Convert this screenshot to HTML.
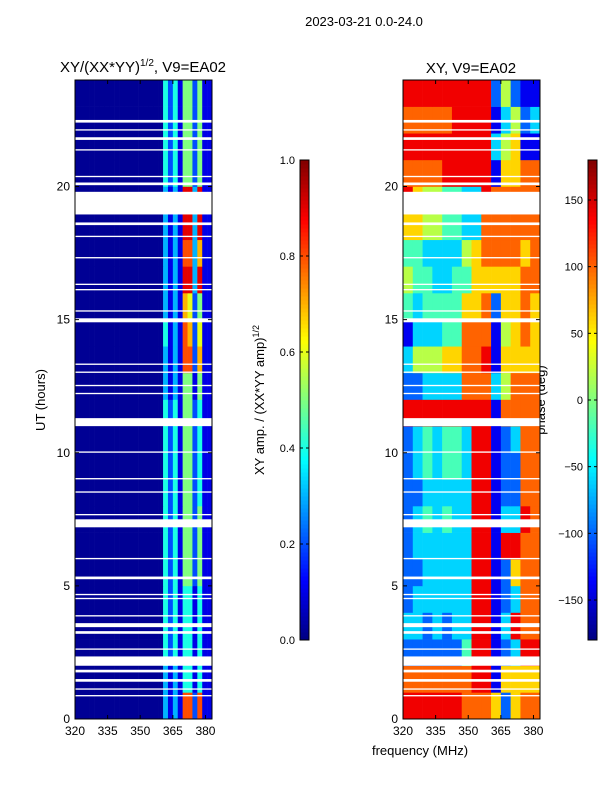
<!DOCTYPE html>
<html><head><meta charset="utf-8"><style>
body{margin:0;background:#fff;}
svg text{font-family:"Liberation Sans",sans-serif;}
</style></head><body>
<svg id="fig" width="600" height="800" xmlns="http://www.w3.org/2000/svg">
<rect width="600" height="800" fill="#fff"/>
<text x="364" y="26" font-size="13" text-anchor="middle">2023-03-21 0.0-24.0</text>
<text x="143" y="72" font-size="15" text-anchor="middle">XY/(XX*YY)<tspan font-size="10" dy="-6">1/2</tspan><tspan dy="6">, V9=EA02</tspan></text>
<text x="471" y="73" font-size="15" text-anchor="middle">XY, V9=EA02</text>
<text transform="translate(45,400) rotate(-90)" font-size="13" text-anchor="middle">UT (hours)</text>
<text x="420" y="755" font-size="13" text-anchor="middle">frequency (MHz)</text>
<text transform="translate(264,400) rotate(-90)" font-size="13" text-anchor="middle">XY amp. / (XX*YY amp)<tspan font-size="9" dy="-5">1/2</tspan></text>
<text transform="translate(545,400) rotate(-90)" font-size="13" text-anchor="middle">phase (deg)</text>
<g id="g"></g>
</svg>
<script>
const freqTicks=[320,335,350,365,380];
const hourTicks=[0,5,10,15,20];
const ampTicks=[0.0,0.2,0.4,0.6,0.8,1.0];
const phaseTicks=[-150,-100,-50,0,50,100,150];
// amplitude: 28 frequency bands x 24 hourly rows (hour 0 first); digits 0-9
const ampRows=[
"0000000000000000003131882811",
"0000000000000000003131441411",
"0000000000000000004241441411",
"0000000000000000004241441411",
"0000000000000000004241441411",
"0000000000000000004241552511",
"0000000000000000004241552511",
"0000000000000000004241552511",
"0000000000000000004241552411",
"0000000000000000004241552411",
"0000000000000000004241552411",
"0000000000000000004241552411",
"0000000000000000003131551511",
"0000000000000000003131882711",
"0000000000000000004131872611",
"0000000000000000003131762511",
"0000000000000000003131993911",
"0000000000000000003131883711",
"0000000000000000003131993911",
"0000000000000000003131993911",
"0000000000000000004241552511",
"0000000000000000004241552511",
"0000000000000000004241552511",
"0000000000000000004241552511"];
// phase: 14 frequency bands x 24 hourly rows; digit d -> -180 + d*40 deg
const phaseRows=["88888877762677","77777778816666","22222248812388","33232338813877","23333338812377",
"22333338812677","23333338818877","23434338813387","22333338812277","23434438812277","23434438812377",
"88888888817777","22333377735777","35556677816666","13334477715676","43444466726676","54433446666677",
"44333356777767","66554433777777","86554433877777","77778888816677","88888888835611","77777888813523","88888888825211"];
const flagged=[[0.85,0.9],[1.1,1.15],[1.4,1.5],[1.75,1.85],[2.0,2.35],[2.6,2.65],[3.2,3.3],[3.45,3.6],[3.85,3.9],[4.5,4.55],[4.65,4.7],[5.25,5.35],[6.0,6.05],[7.2,7.5],[7.65,7.7],[8.5,8.55],[9.0,9.05],[10.0,10.05],[11.0,11.3],[12.2,12.25],[12.5,12.55],[13.0,13.05],[13.3,13.35],[14.9,15.05],[15.3,15.35],[16.1,16.15],[16.3,16.35],[17.3,17.35],[18.1,18.15],[18.55,18.65],[18.95,19.8],[20.05,20.15],[20.35,20.4],[21.35,21.4],[21.75,21.85],[22.1,22.15],[22.4,22.5]];
const F0=320,F1=383;
const NS="http://www.w3.org/2000/svg";
const G=document.getElementById('g');
function jet(v){v=Math.max(0,Math.min(1,v));
 const c=x=>Math.round(255*Math.max(0,Math.min(1,x)));
 const r=c(Math.min(4*v-1.5,-4*v+4.5)),g=c(Math.min(4*v-0.5,-4*v+3.5)),b=c(Math.min(4*v+0.5,-4*v+2.5));
 return `rgb(${r},${g},${b})`;}
function el(t,a,p){const e=document.createElementNS(NS,t);for(const k in a)e.setAttribute(k,a[k]);(p||G).appendChild(e);return e;}
function txt(x,y,s,anchor){const e=el('text',{x:x,y:y,'font-size':12,'text-anchor':anchor});e.textContent=s;return e;}
function panel(x0,rows,valFn,name){
 const w=137,y0=80,y1=719;
 const xs=f=>x0+(f-F0)/(F1-F0)*w, ys=h=>y1-h/24*(y1-y0);
 rows.forEach((row,h)=>{const NB=row.length,bw=(F1-F0)/NB;for(let b=0;b<NB;b++){
  const r=el('rect',{x:xs(F0+b*bw),y:ys(h+1),width:xs(F0+(b+1)*bw)-xs(F0+b*bw)+0.3,height:ys(h)-ys(h+1)+0.3,fill:jet(valFn(+row[b]))});
  
  }});
 flagged.forEach(fl=>{const r=el('rect',{x:x0,y:ys(fl[1]),width:w,height:ys(fl[0])-ys(fl[1]),fill:'#fff'});
  
  });
 const fr=el('rect',{x:x0,y:y0,width:w,height:y1-y0,fill:'none',stroke:'#000'});
 
 
 freqTicks.forEach(f=>{const x=xs(f);el('line',{x1:x,x2:x,y1:y1,y2:y1-4,stroke:'#000'});el('line',{x1:x,x2:x,y1:y0,y2:y0+4,stroke:'#000'});
  const t=txt(x,735,String(f),'middle');});
 hourTicks.forEach(h=>{const y=ys(h);el('line',{x1:x0,x2:x0+4,y1:y,y2:y,stroke:'#000'});el('line',{x1:x0+w,x2:x0+w-4,y1:y,y2:y,stroke:'#000'});
  const t=txt(x0-5,y+4,String(h),'end');});
}
panel(75,ampRows,d=>d===0?0.02:d/10,'amp');
panel(403,phaseRows,d=>d/9,'phase');
function cbar(x,lo,hi,ticks,name,fmt){
 const y0=160,y1=640,n=120;
 for(let i=0;i<n;i++){const r=el('rect',{x:x,y:y1-(i+1)*(y1-y0)/n,width:9,height:(y1-y0)/n+0.5,fill:jet((i+0.5)/n)});
  
  }
 const fr=el('rect',{x:x,y:y0,width:9,height:y1-y0,fill:'none',stroke:'#000'});
 
 
 ticks.forEach(v=>{const y=y1-(v-lo)/(hi-lo)*(y1-y0);el('line',{x1:x,x2:x+3,y1:y,y2:y,stroke:'#000'});el('line',{x1:x+9,x2:x+6,y1:y,y2:y,stroke:'#000'});
  const t=txt(x-5,y+4,fmt(v),'end');t.setAttribute('font-size',11);});
}
cbar(300,0,1,ampTicks,'amp-colorbar',v=>v.toFixed(1));
cbar(588,-180,180,phaseTicks,'phase-colorbar',v=>v<0?'\u2212'+(-v):String(v));
</script>
</body></html>
